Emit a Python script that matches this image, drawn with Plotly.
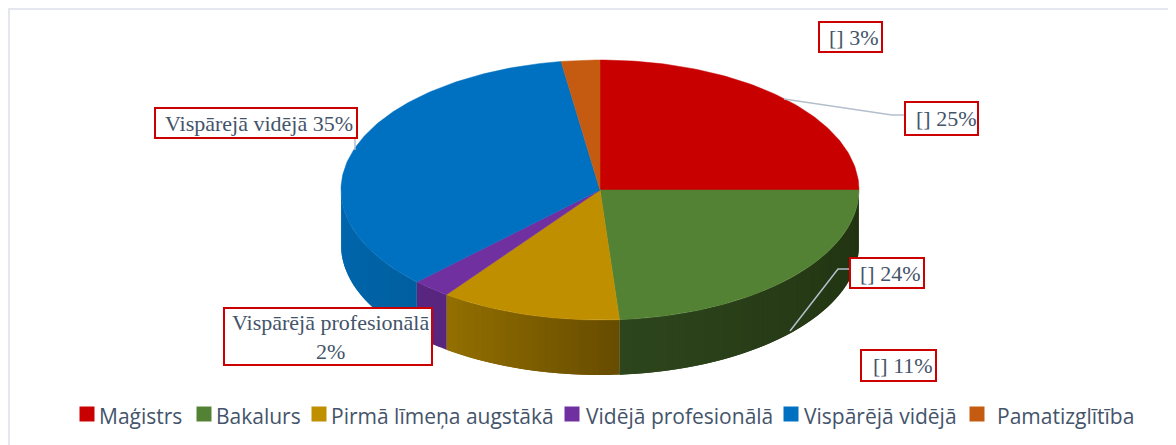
import math
import plotly.graph_objects as go

# ---- data ----
categories = ["Maģistrs", "Bakalurs", "Pirmā līmeņa augstākā", "Vidējā profesionālā", "Vispārējā vidējā", "Pamatizglītība"]
values = [25, 23.8, 11.3, 2.4, 35.1, 2.4]
colors = ["#C80000", "#548235", "#BF8F00", "#7030A0", "#0070C0", "#C55A11"]
wall_left = ["#900000", "#2D451C", "#947000", "#58267F", "#0068B0", "#8F400C"]
wall_right = ["#700000", "#203110", "#674C00", "#58267F", "#005F9F", "#8F400C"]
label_texts = ["[] 25%", "[] 24%", "[] 11%", "Vispārējā profesionālā<br>2%", "Vispārejā vidējā 35%", "[] 3%"]

# ---- layout constants (page pixels; the page body adds an 8 px margin) ----
OFF = 8
W, H = 1168, 437
CX, CY, RX, RY, DEPTH = 600, 190, 259, 130, 55
BOXES = [(904, 979, 101, 136), (849, 925, 257, 289), (860, 937, 349, 382),
         (223, 433, 307, 366), (154, 358, 107, 139), (818, 883, 21, 53)]
LABEL_XSHIFT = [4, 3, 4, 2, 3, 3]
LEADERS = [[(784, 99), (892, 115), (904, 115)],
           [(790, 331), (838, 269), (849, 269)],
           [(355, 139), (355, 150)]]
SWATCH_X = [87, 204, 319, 572, 791, 977]
LEGEND_TEXT_X = [97, 214, 329, 584, 802, 995]
LEGEND_Y = 416
FRAME = "#E4E8EE"
BOX_RED = "#CC0000"


def pt(theta, dy=0.0):
    r = math.radians(theta)
    return CX + RX * math.sin(r), CY - RY * math.cos(r) + dy


def mix(a, b, t):
    ca = [int(a[i:i + 2], 16) for i in (1, 3, 5)]
    cb = [int(b[i:i + 2], 16) for i in (1, 3, 5)]
    return "rgb(%d,%d,%d)" % tuple(round(x + (y - x) * t) for x, y in zip(ca, cb))


fig = go.Figure()
total = sum(values)
edges = [0.0]
for v in values:
    edges.append(edges[-1] + v / total * 360)

# side walls: front half of the disc, overlapping strips painted in order give a seamless shade
for i in range(len(values)):
    a0, a1 = max(edges[i], 90), min(edges[i + 1], 270)
    if a1 <= a0:
        continue
    n = max(2, int((a1 - a0) / 1.5))
    step = (a1 - a0) / n
    for k in range(n):
        s0 = a0 + step * k
        s1 = min(a1, s0 + 2 * step)
        arc_a = [s0 + (s1 - s0) * j / 4 for j in range(5)]
        c = mix(wall_left[i], wall_right[i], 1 - (k + 0.5) / n)
        top = [pt(a) for a in arc_a]
        bot = [pt(a, DEPTH) for a in reversed(arc_a)]
        poly = top + bot + [top[0]]
        fig.add_trace(go.Scatter(x=[p[0] for p in poly], y=[p[1] for p in poly], mode="lines",
                                 fill="toself", fillcolor=c, line=dict(width=0),
                                 hoverinfo="skip", showlegend=False))

# top surface
for i, name in enumerate(categories):
    n = max(3, int(edges[i + 1] - edges[i]))
    arc = [pt(edges[i] + (edges[i + 1] - edges[i]) * k / n) for k in range(n + 1)]
    poly = [(CX, CY)] + arc + [(CX, CY)]
    fig.add_trace(go.Scatter(x=[p[0] for p in poly], y=[p[1] for p in poly], mode="lines",
                             fill="toself", fillcolor=colors[i], line=dict(color=colors[i], width=0.5),
                             name=name, hoverinfo="name", showlegend=False))

# leader lines
for seg in LEADERS:
    fig.add_trace(go.Scatter(x=[p[0] for p in seg], y=[p[1] for p in seg], mode="lines",
                             line=dict(color="#B4BFCC", width=1.5), hoverinfo="skip", showlegend=False))

# legend swatches
for i, name in enumerate(categories):
    fig.add_trace(go.Scatter(x=[SWATCH_X[i]], y=[LEGEND_Y - 2], mode="markers", name=name, hoverinfo="name",
                             marker=dict(symbol="square", size=15, color=colors[i], line=dict(width=0)),
                             showlegend=False))

shapes = [
    dict(type="line", xref="x", yref="y", x0=OFF + 1, x1=OFF + 1, y0=OFF, y1=OFF + H, line=dict(color=FRAME, width=2), layer="below"),
    dict(type="line", xref="x", yref="y", x0=OFF, x1=OFF + W, y0=OFF + 1, y1=OFF + 1, line=dict(color=FRAME, width=2), layer="below"),
]

annotations = []
for text, (x0, x1, y0, y1), dx in zip(label_texts, BOXES, LABEL_XSHIFT):
    shapes.append(dict(type="rect", xref="x", yref="y", x0=x0 + 1, x1=x1 - 1, y0=y0 + 1, y1=y1 - 1,
                       fillcolor="white", line=dict(color=BOX_RED, width=2), layer="above"))
    annotations.append(dict(x=(x0 + x1) / 2, y=(y0 + y1) / 2, xref="x", yref="y", text=text, showarrow=False,
                            xshift=dx, align="center", valign="middle",
                            font=dict(family="Liberation Serif", size=22, color="#44546A")))
for name, x in zip(categories, LEGEND_TEXT_X):
    annotations.append(dict(x=x, y=LEGEND_Y, xref="x", yref="y", text=name, showarrow=False, xanchor="left",
                            yanchor="middle", font=dict(family="Open Sans", size=21, color="#44546A")))

fig.update_layout(
    width=W, height=H, margin=dict(l=0, r=0, t=0, b=0), paper_bgcolor="white", plot_bgcolor="white",
    xaxis=dict(range=[OFF, OFF + W], visible=False, fixedrange=True),
    yaxis=dict(range=[OFF + H, OFF], visible=False, fixedrange=True),
    showlegend=False, annotations=annotations, shapes=shapes,
)
fig.write_html("out.html")
